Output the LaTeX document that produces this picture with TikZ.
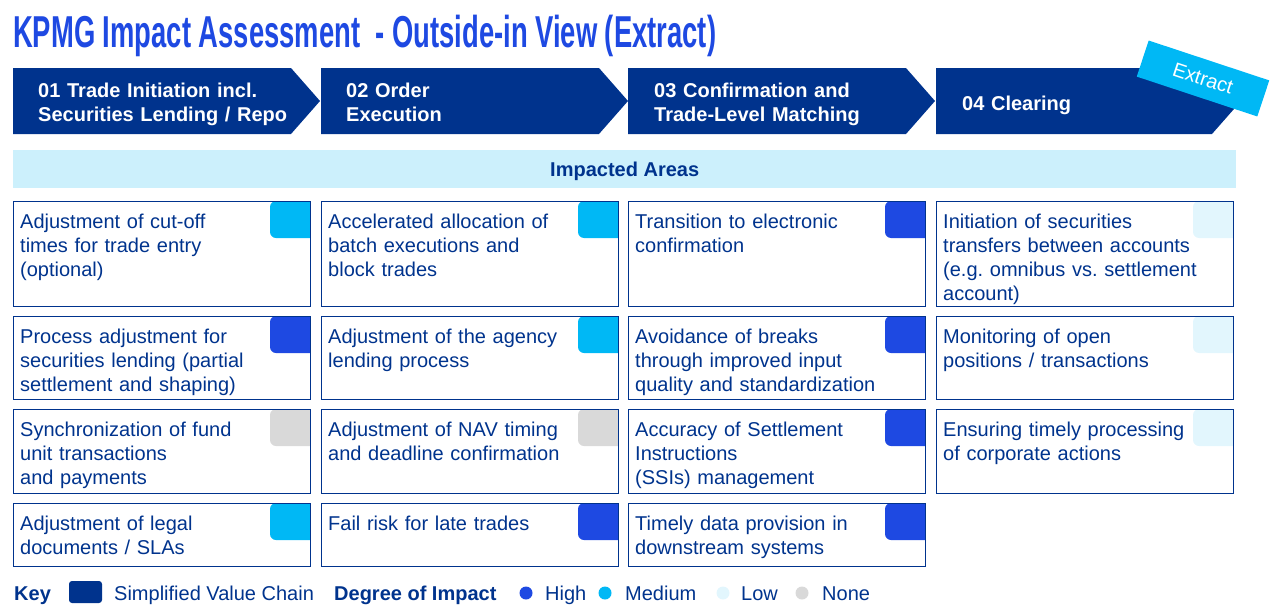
\documentclass[tikz,border=0pt]{standalone}
\usepackage{graphicx}
\usepackage{fontspec}
\setmainfont{Liberation Sans}
\frenchspacing

\definecolor{kpmgblue}{HTML}{00338D}
\definecolor{cobalt}{HTML}{1E49E2}
\definecolor{pacific}{HTML}{00B8F5}
\definecolor{lowcyan}{HTML}{E2F6FD}
\definecolor{nonegray}{HTML}{D9D9D9}
\definecolor{barcyan}{HTML}{CCF0FC}

\tikzset{
  chevron/.style={fill=kpmgblue},
  stagetext/.style={anchor=base west, inner sep=0pt, text width=270pt, align=left,
    text=white, font=\fontsize{20pt}{24pt}\selectfont\bfseries},
  areabox/.style={anchor=north west, minimum width=297pt, inner sep=0pt, outer sep=0pt},
  areatext/.style={anchor=base west, inner sep=0pt, text width=288pt, align=left,
    text=kpmgblue, font=\fontsize{20pt}{24pt}\selectfont},
  boxline/.style={draw=kpmgblue, line width=1pt},
  impacthigh/.style={fill=cobalt},
  impactmed/.style={fill=pacific},
  impactlow/.style={fill=lowcyan},
  impactnone/.style={fill=nonegray},
  keytext/.style={anchor=base west, inner sep=0pt, text=kpmgblue, font=\fontsize{20pt}{24pt}\selectfont},
  keydot/.style={circle, inner sep=0pt, minimum size=13pt},
}

% box with impact marker in the top right corner
\newcommand\areabox[6]{%
  \node[areabox, minimum height=#4pt] (#1) at (#2,#3) {};
  \begin{scope}
    \clip (#1.north west) rectangle (#1.south east);
    \fill[#5, rounded corners=6pt] ([xshift=-40pt]#1.north east) rectangle ([xshift=10pt,yshift=-37pt]#1.north east);
  \end{scope}
  \draw[boxline] (#1.north west) rectangle (#1.south east);
  \node[areatext] (#1-txt) at ([xshift=7pt,yshift=-27pt]#1.north west) {#6};
}

\begin{document}
\begin{tikzpicture}[x=1pt, y=-1pt]

  \useasboundingbox (0,0) rectangle (1283,616);

  % title
  \node[anchor=base west, inner sep=0pt, text=cobalt] (title) at (13,47)
    {\resizebox{703pt}{\height}{\fontsize{44.7pt}{50pt}\selectfont\bfseries KPMG Impact Assessment\ \ - Outside-in View (Extract)}};

  % value chain
  \fill[chevron] (13,68) -- (291,68) -- (320,101) -- (291,134) -- (13,134) -- cycle;
  \fill[chevron] (321,68) -- (599,68) -- (628,101) -- (599,134) -- (321,134) -- cycle;
  \fill[chevron] (628,68) -- (906,68) -- (935,101) -- (906,134) -- (628,134) -- cycle;
  \fill[chevron] (936,68) -- (1212,68) -- (1241,101) -- (1212,134) -- (936,134) -- cycle;

  \node[stagetext] (s1) at (38,97) {01 Trade Initiation incl.\\Securities Lending / Repo};
  \node[stagetext] (s2) at (346,97) {02 Order\\Execution};
  \node[stagetext] (s3) at (654,97) {03 Confirmation and\\Trade-Level Matching};
  \node[stagetext] (s4) at (962,110) {04 Clearing};

  \node[fill=pacific, rotate=-18.3, minimum width=127pt, minimum height=38pt, inner sep=0pt,
    text=white, font=\fontsize{20pt}{24pt}\selectfont] (extract) at (1203,78.5) {Extract};

  % impacted areas
  \node[anchor=north west, fill=barcyan, minimum width=1223pt, minimum height=38pt, inner sep=0pt,
    text depth=0pt, text=kpmgblue, font=\fontsize{20pt}{24pt}\selectfont\bfseries] (areas) at (13,150) {Impacted Areas};

  \areabox{a11}{13}{201}{105}{impactmed}{Adjustment of cut-off\\times for trade entry\\(optional)}
  \areabox{a12}{321}{201}{105}{impactmed}{Accelerated allocation of\\batch executions and\\block trades}
  \areabox{a13}{628}{201}{105}{impacthigh}{Transition to electronic\\confirmation}
  \areabox{a14}{936}{201}{105}{impactlow}{Initiation of securities\\transfers between accounts\\(e.g. omnibus vs. settlement\\account)}

  \areabox{a21}{13}{316}{83}{impacthigh}{Process adjustment for\\securities lending (partial\\settlement and shaping)}
  \areabox{a22}{321}{316}{83}{impactmed}{Adjustment of the agency\\lending process}
  \areabox{a23}{628}{316}{83}{impacthigh}{Avoidance of breaks\\through improved input\\quality and standardization}
  \areabox{a24}{936}{316}{83}{impactlow}{Monitoring of open\\positions / transactions}

  \areabox{a31}{13}{409}{84}{impactnone}{Synchronization of fund\\unit transactions\\and payments}
  \areabox{a32}{321}{409}{84}{impactnone}{Adjustment of NAV timing\\and deadline confirmation}
  \areabox{a33}{628}{409}{84}{impacthigh}{Accuracy of Settlement\\Instructions\\(SSIs) management}
  \areabox{a34}{936}{409}{84}{impactlow}{Ensuring timely processing\\of corporate actions}

  \areabox{a41}{13}{503}{63}{impactmed}{Adjustment of legal\\documents / SLAs}
  \areabox{a42}{321}{503}{63}{impacthigh}{Fail risk for late trades}
  \areabox{a43}{628}{503}{63}{impacthigh}{Timely data provision in\\downstream systems}

  % key
  \node[keytext, font=\fontsize{20pt}{24pt}\selectfont\bfseries] (key) at (14,600) {Key};
  \node[fill=kpmgblue, rounded corners=3pt, minimum width=33pt, minimum height=22pt, inner sep=0pt] (keychain) at (85.5,592) {};
  \node[keytext] (keyvc) at (114,600) {Simplified Value Chain};
  \node[keytext, font=\fontsize{20pt}{24pt}\selectfont\bfseries] (keydeg) at (334,600) {Degree of Impact};
  \node[keydot, impacthigh] (dhigh) at (526,593) {};
  \node[keytext] (khigh) at (545,600) {High};
  \node[keydot, impactmed] (dmed) at (605,593) {};
  \node[keytext] (kmed) at (625,600) {Medium};
  \node[keydot, impactlow] (dlow) at (723,593) {};
  \node[keytext] (klow) at (741,600) {Low};
  \node[keydot, impactnone] (dnone) at (802,593) {};
  \node[keytext] (knone) at (822,600) {None};

\end{tikzpicture}
\end{document}
